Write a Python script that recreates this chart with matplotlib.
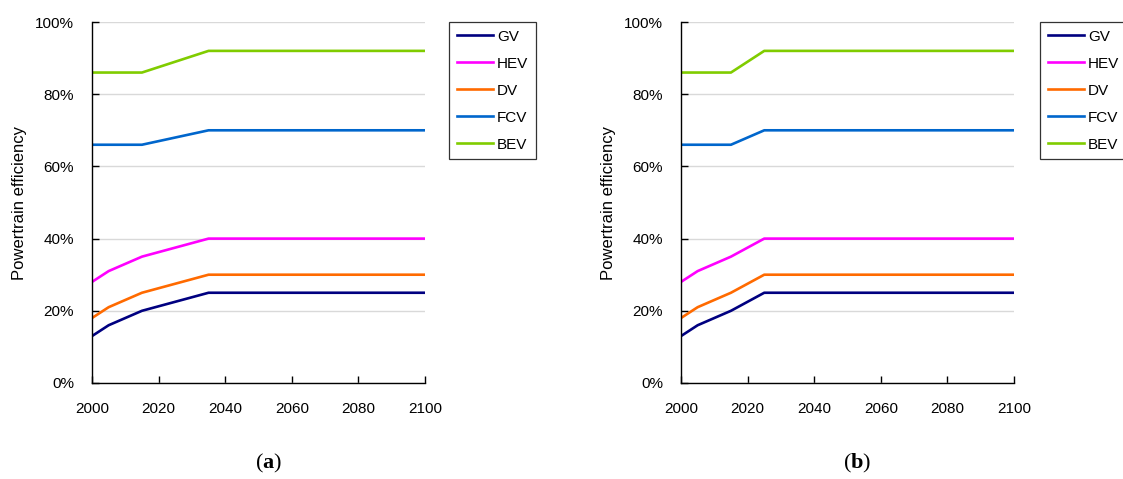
import matplotlib
matplotlib.use("Agg")
import matplotlib.pyplot as plt
from matplotlib.ticker import PercentFormatter

plt.rcParams['font.family'] = ['Liberation Sans', 'DejaVu Sans']
plt.rcParams['mathtext.fontset'] = 'custom'
plt.rcParams['mathtext.rm'] = 'Liberation Serif'
plt.rcParams['mathtext.bf'] = 'Liberation Serif:bold'

# Powertrain efficiency (%) by vehicle type
series_names = ["GV", "HEV", "DV", "FCV", "BEV"]
series_colors = ["#000080", "#FF00FF", "#FF6A00", "#0066CC", "#80CC00"]

# Scenario (a): improvements level off in 2035
years_a = [2000, 2005, 2010, 2015, 2035, 2100]
gv_a = [13, 16, 18, 20, 25, 25]
hev_a = [28, 31, 33, 35, 40, 40]
dv_a = [18, 21, 23, 25, 30, 30]
fcv_a = [66, 66, 66, 66, 70, 70]
bev_a = [86, 86, 86, 86, 92, 92]

# Scenario (b): improvements level off in 2025
years_b = [2000, 2005, 2010, 2015, 2025, 2100]
gv_b = [13, 16, 18, 20, 25, 25]
hev_b = [28, 31, 33, 35, 40, 40]
dv_b = [18, 21, 23, 25, 30, 30]
fcv_b = [66, 66, 66, 66, 70, 70]
bev_b = [86, 86, 86, 86, 92, 92]

x_ticks = [2000, 2020, 2040, 2060, 2080, 2100]
y_ticks = [0, 20, 40, 60, 80, 100]
panel_labels = ["a", "b"]

W, H = 1123, 479
AX_W, AX_H = 333, 361
fig = plt.figure(figsize=(W / 100, H / 100), dpi=100)

panels = [
    (years_a, [gv_a, hev_a, dv_a, fcv_a, bev_a], 92, 449),
    (years_b, [gv_b, hev_b, dv_b, fcv_b, bev_b], 681, 1040),
]

for (years, values, left_px, leg_px), lab in zip(panels, panel_labels):
    ax = fig.add_axes([left_px / W, (H - 383) / H, AX_W / W, AX_H / H])
    for name, col, vals in zip(series_names, series_colors, values):
        ax.plot(years, vals, color=col, lw=1.9, label=name, solid_joinstyle='round')
    ax.set_xlim(2000, 2100)
    ax.set_ylim(0, 100)
    ax.set_xticks(x_ticks)
    ax.set_yticks(y_ticks)
    ax.yaxis.set_major_formatter(PercentFormatter(decimals=0))
    ax.grid(axis='y', color='#D9D9D9', lw=1.0)
    ax.set_axisbelow(True)
    for s in ['top', 'right']:
        ax.spines[s].set_visible(False)
    for s in ['left', 'bottom']:
        ax.spines[s].set_color('black')
        ax.spines[s].set_linewidth(1.0)
    ax.tick_params(axis='both', direction='in', length=5, width=1.0,
                   labelsize=11, colors='black')
    ax.tick_params(axis='x', pad=14)
    ax.tick_params(axis='y', pad=13)
    ax.set_ylabel("Powertrain efficiency", fontsize=12, va='center')
    ax.yaxis.set_label_coords(-72 / AX_W, 0.5)
    leg = ax.legend(loc='upper left', bbox_to_anchor=(leg_px / W, 1 - 22 / H),
                    bbox_transform=fig.transFigure, frameon=True, fancybox=False,
                    edgecolor='black', fontsize=11, handlelength=2.4,
                    handletextpad=0.25, labelspacing=0.85, borderpad=0.5,
                    borderaxespad=0)
    leg.get_frame().set_linewidth(0.9)
    cx = (left_px + AX_W / 2 + 10) / W
    fig.text(cx, 1 - 463 / H, r"($\mathbf{%s}$)" % lab, ha='center', va='center',
             fontsize=16, family='Liberation Serif')

fig.savefig("out.png", dpi=100)
